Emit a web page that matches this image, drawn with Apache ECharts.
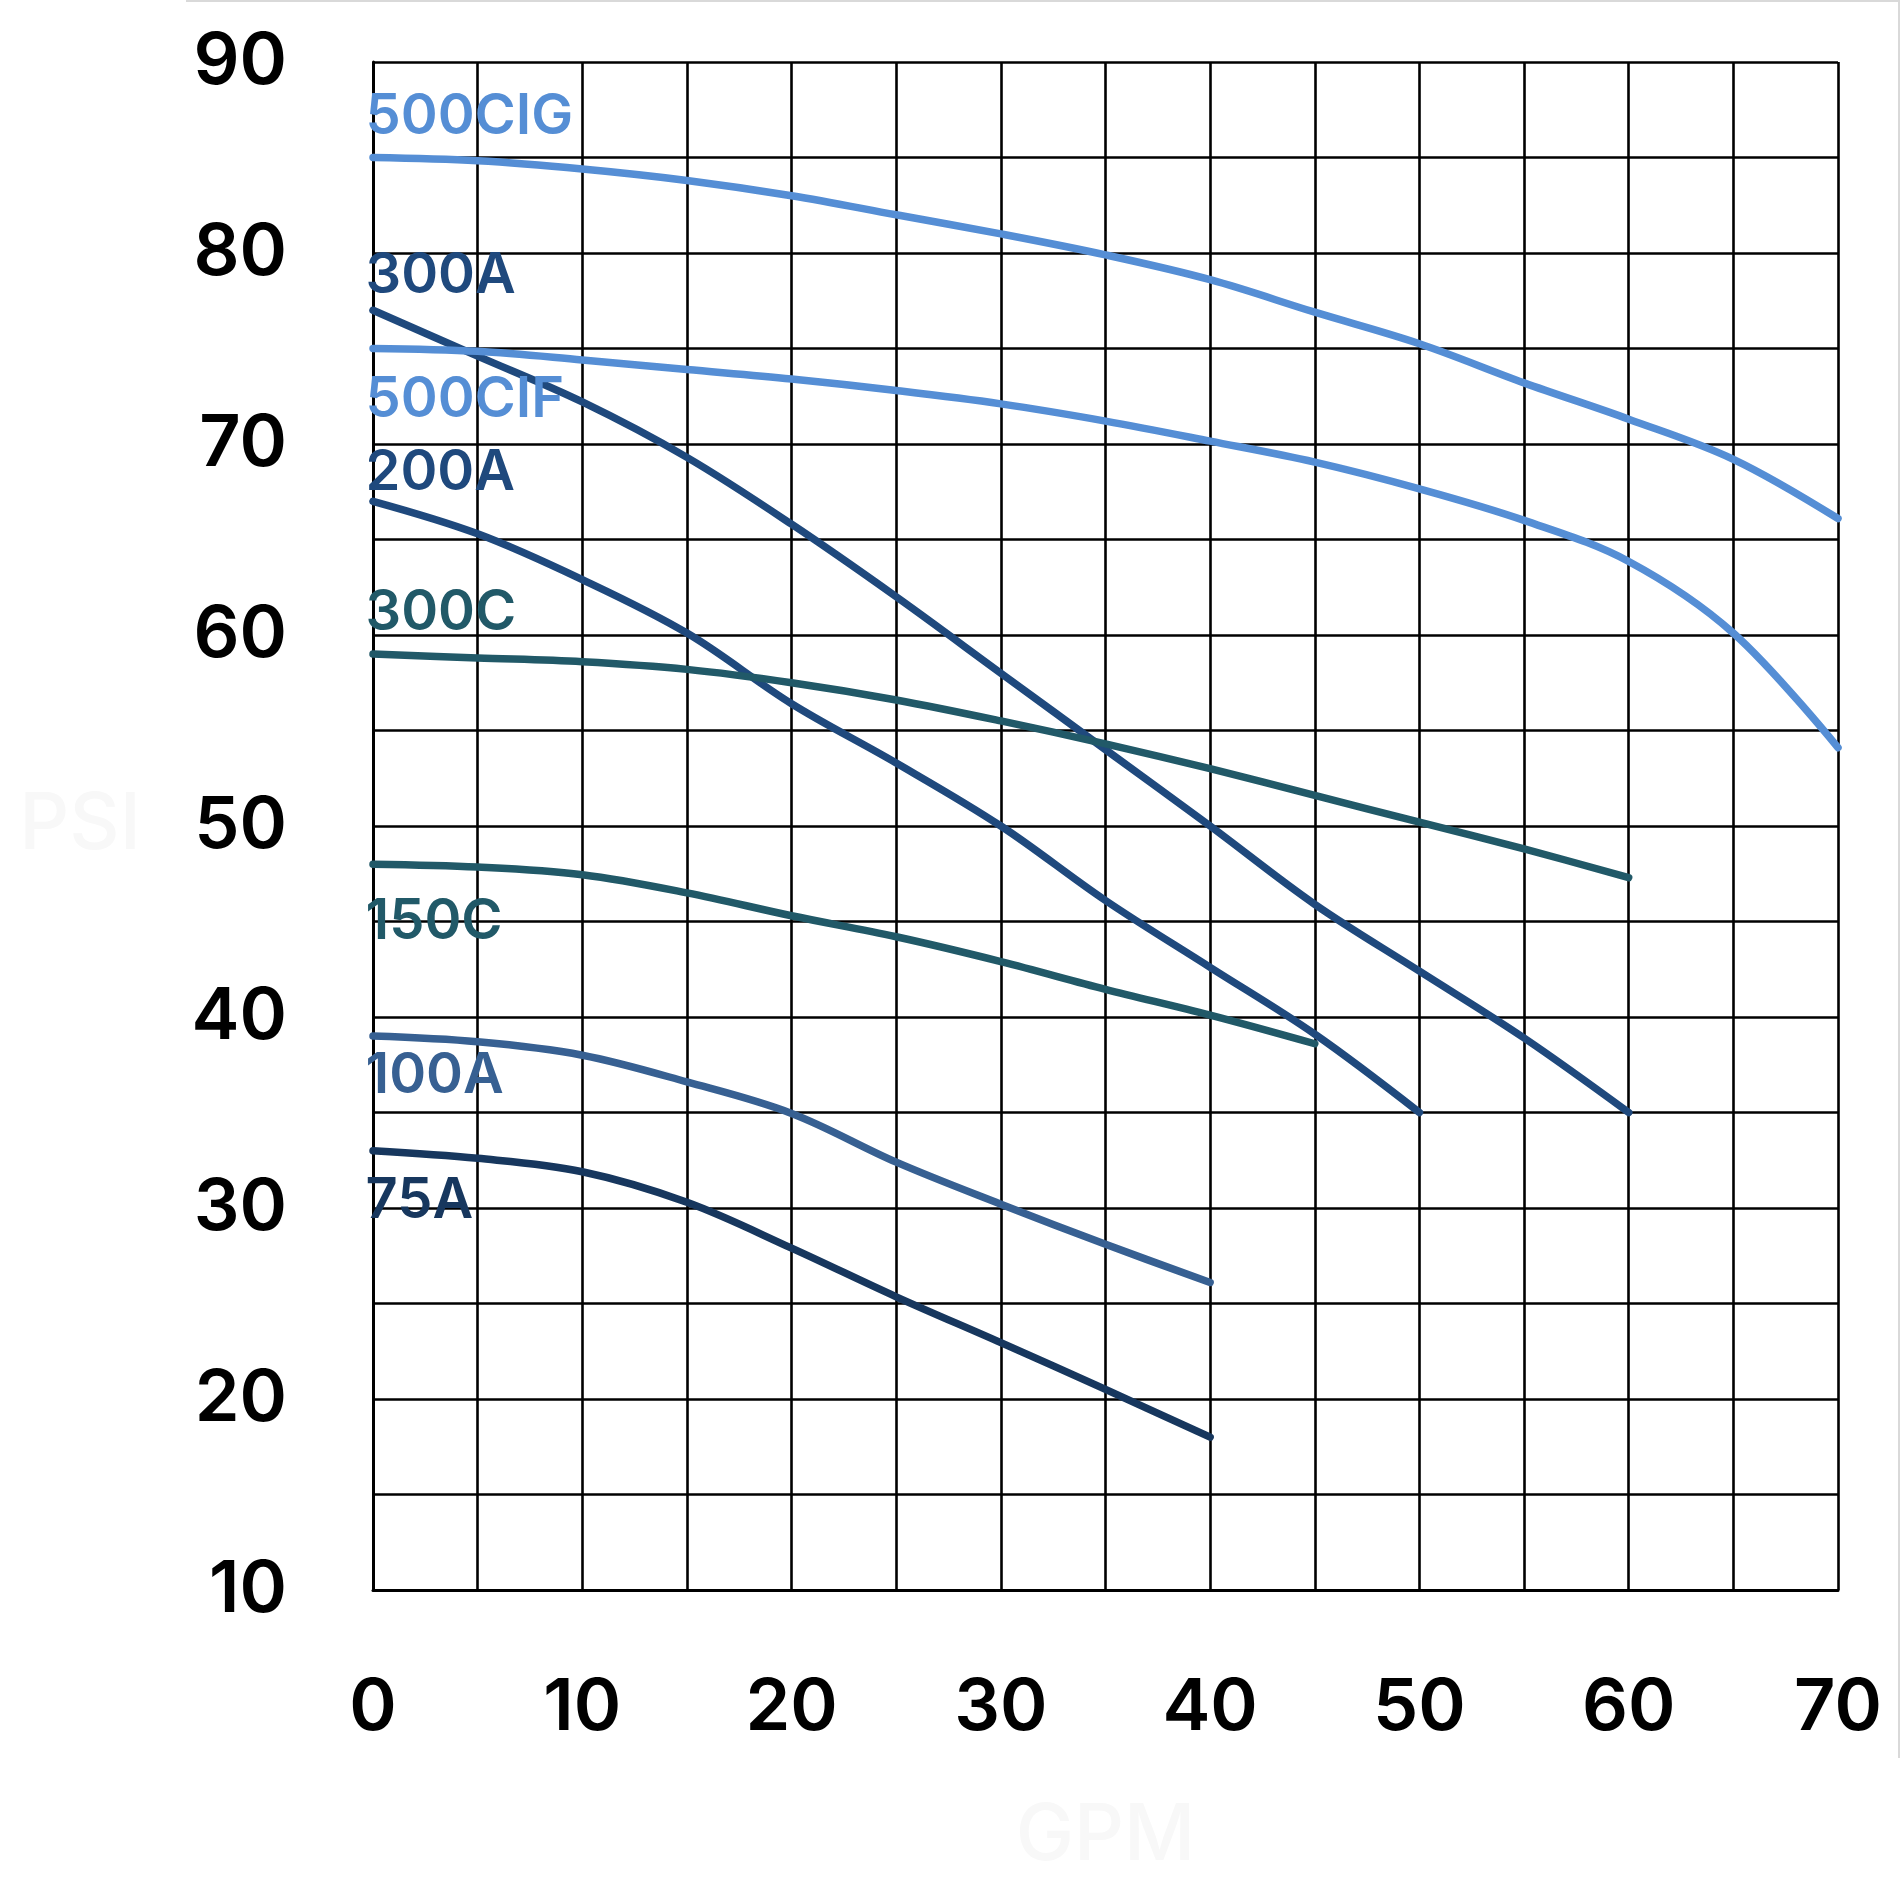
<!DOCTYPE html>
<html>
<head>
<meta charset="utf-8">
<script src="https://cdn.jsdelivr.net/npm/echarts@6/dist/echarts.min.js"></script>
<style>
html,body{margin:0;padding:0;background:#fff;}
#chart{width:1900px;height:1900px;}
</style>
</head>
<body>
<div id="chart"></div>
<script>
// GPM values (x positions, every 5 GPM)
const gpm = [0, 5, 10, 15, 20, 25, 30, 35, 40, 45, 50, 55, 60, 65, 70];

// PSI values per pump model
const s500CIG = [85.0, 84.83, 84.4, 83.8, 83.0, 82.0, 81.0, 79.9, 78.6, 76.9, 75.25, 73.2, 71.3, 69.2, 66.1];
const s500CIF = [75.0, 74.85, 74.4, 73.9, 73.4, 72.8, 72.1, 71.2, 70.15, 69.05, 67.65, 66.0, 63.85, 60.1, 54.1];
const s300A   = [77.0, 74.6, 72.2, 69.3, 65.8, 62.0, 58.0, 54.0, 50.0, 45.9, 42.4, 38.9, 35.0];
const s200A   = [67.0, 65.3, 62.9, 60.1, 56.4, 53.3, 50.0, 46.1, 42.6, 39.1, 35.0];
const s300C   = [59.0, 58.8, 58.6, 58.2, 57.5, 56.6, 55.5, 54.3, 53.0, 51.6, 50.2, 48.8, 47.3];
const s150C   = [48.0, 47.85, 47.45, 46.5, 45.3, 44.2, 42.9, 41.45, 40.1, 38.6];
const s100A   = [39.0, 38.7, 38.0, 36.6, 34.95, 32.4, 30.2, 28.1, 26.1];
const s75A    = [33.0, 32.6, 31.9, 30.3, 27.9, 25.35, 22.95, 20.5, 18.0];

const seriesNames = ['500CIG', '300A', '500CIF', '200A', '300C', '150C', '100A', '75A'];
const seriesData  = [s500CIG, s300A, s500CIF, s200A, s300C, s150C, s100A, s75A];
const seriesColors = ['#558ED5', '#1F497D', '#558ED5', '#1F497D', '#215968', '#215968', '#376092', '#17375E'];
// vertical offset (px) of each model's name label from the curve start
const labelDy = [-40, -34, 52, -28, -40, 58, 41, 51];

const FONT = 'Inter, "Noto Sans", sans-serif';

const chart = echarts.init(document.getElementById('chart'), null, {renderer: 'canvas'});

const series = seriesNames.map((name, i) => {
  const vals = seriesData[i];
  const pts = vals.map((v, k) => [gpm[k], v]);
  return {
    name: name,
    type: 'line',
    data: pts,
    smooth: 0.35,
    symbol: 'none',
    z: 5 + i,
    lineStyle: {color: seriesColors[i], width: 7.5, cap: 'round', join: 'round'},
    markPoint: {
      symbol: 'circle',
      symbolSize: 1,
      itemStyle: {color: 'transparent'},
      silent: true,
      z: 20,
      data: [{
        coord: pts[0],
        label: {
          show: true,
          formatter: name,
          position: [-7, labelDy[i]],
          align: 'left',
          verticalAlign: 'middle',
          color: seriesColors[i],
          fontFamily: FONT,
          fontSize: 56,
          fontWeight: 600
        }
      }]
    }
  };
});

const option = {
  animation: false,
  backgroundColor: '#ffffff',
  grid: {left: 373, right: 62, top: 62, bottom: 310, containLabel: false, outerBoundsMode: 'none'},
  xAxis: {
    type: 'value',
    min: 0, max: 70, interval: 5,
    name: 'GPM',
    nameLocation: 'middle',
    nameGap: 208,
    nameTextStyle: {color: '#f8f8f8', fontFamily: FONT, fontSize: 78, fontWeight: 500},
    axisLine: {show: true, lineStyle: {color: '#000', width: 3}},
    axisTick: {show: false},
    splitLine: {show: true, lineStyle: {color: '#000', width: 2.6}},
    axisLabel: {
      margin: 82,
      color: '#000',
      fontFamily: FONT,
      fontSize: 72,
      fontWeight: 600,
      formatter: v => (v % 10 === 0 ? String(v) : '')
    }
  },
  yAxis: {
    type: 'value',
    min: 10, max: 90, interval: 5,
    name: 'PSI',
    nameLocation: 'middle',
    nameRotate: 0,
    nameGap: 232,
    nameTextStyle: {color: '#f8f8f8', fontFamily: FONT, fontSize: 78, fontWeight: 500},
    axisLine: {show: true, lineStyle: {color: '#000', width: 3}},
    axisTick: {show: false},
    splitLine: {show: true, lineStyle: {color: '#000', width: 2.6}},
    axisLabel: {
      margin: 86,
      color: '#000',
      fontFamily: FONT,
      fontSize: 72,
      fontWeight: 600,
      formatter: v => (v % 10 === 0 ? String(v) : '')
    }
  },
  graphic: [
    {type: 'line', shape: {x1: 186, y1: 1, x2: 1900, y2: 1}, style: {stroke: '#d9d9d9', lineWidth: 2}, silent: true},
    {type: 'line', shape: {x1: 1899, y1: 0, x2: 1899, y2: 1758}, style: {stroke: '#d9d9d9', lineWidth: 2}, silent: true}
  ],
  series: series
};

chart.setOption(option);
</script>
</body>
</html>
